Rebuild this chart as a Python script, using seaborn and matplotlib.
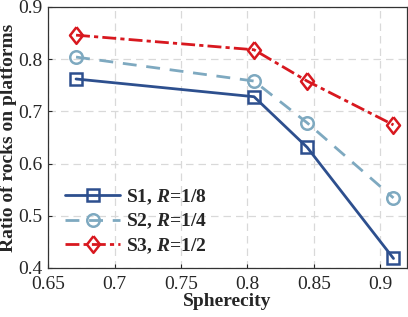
import matplotlib.pyplot as plt
import seaborn as sns
import pandas as pd

### Dados
esfericidade = [0.671, 0.805, 0.845, 0.910]
s1 = [0.762, 0.728, 0.631, 0.418]
s2 = [0.804, 0.758, 0.678, 0.534]
s3 = [0.846, 0.818, 0.758, 0.674]
rotulos = ["S1, $\\mathit{R}$=1/8", "S2, $\\mathit{R}$=1/4", "S3, $\\mathit{R}$=1/2"]

sns.set_style("ticks")
plt.rcParams["font.family"] = ["Liberation Serif", "DejaVu Serif"]
plt.rcParams["mathtext.fontset"] = "custom"
plt.rcParams["mathtext.it"] = "Liberation Serif:italic:bold"
plt.rcParams["mathtext.rm"] = "Liberation Serif:bold"

fig = plt.figure(figsize = (4.08, 3.17), dpi = 100)
ax = fig.add_axes([0.118, 0.155, 0.879, 0.823])

losango = [(0, 1), (0.78, 0), (0, -1), (-0.78, 0), (0, 1)]  # diamante um pouco alongado
estilos = [
	(s1, "#2d4f8e", "-", "s", 9, rotulos[0]),
	(s2, "#7ea9c0", (0, (5, 3.5)), "o", 9, rotulos[1]),
	(s3, "#d8181f", (0, (5, 1.5, 1.5, 1.5)), losango, 12, rotulos[2]),
]
for valores, cor, ls, mk, ms, rot in estilos:
	df = pd.DataFrame({"x": esfericidade, "y": valores})
	sns.lineplot(data = df, x = "x", y = "y", ax = ax, color = cor, linestyle = ls,
				linewidth = 2, marker = mk, markersize = ms,
				markerfacecolor = "none", markeredgecolor = cor, markeredgewidth = 1.8,
				label = rot)

ax.set_xlim(0.65, 0.92)
ax.set_ylim(0.4, 0.9)
ax.set_xticks([0.65, 0.7, 0.75, 0.8, 0.85, 0.9])
ax.set_xticklabels(["0.65", "0.7", "0.75", "0.8", "0.85", "0.9"])
ax.set_yticks([0.4, 0.5, 0.6, 0.7, 0.8, 0.9])
ax.set_yticklabels(["0.4", "0.5", "0.6", "0.7", "0.8", "0.9"])
ax.tick_params(axis = "both", direction = "in", labelsize = 14, length = 3, width = 0.8,
				top = False, right = False)
ax.tick_params(axis = "x", pad = 6)
ax.tick_params(axis = "y", pad = 4)
ax.grid(True, linestyle = (0, (6, 4)), color = "#d9d9d9", linewidth = 0.9)
for sp in ax.spines.values():
	sp.set_linewidth(0.9)
	sp.set_color("#333333")
ax.set_xlabel("Spherecity", fontsize = 14, fontweight = "bold", labelpad = 0)
ax.set_ylabel("Ratio of rocks on platforms", fontsize = 14, fontweight = "bold", labelpad = 1)
leg = ax.legend(loc = "lower left", bbox_to_anchor = (0.01, -0.005), frameon = False,
				prop = {"size": 14, "weight": "bold"}, handlelength = 2.8,
				handletextpad = 0.3, labelspacing = 0.25, borderaxespad = 0.3)

plt.savefig("out.png", dpi = 100)
